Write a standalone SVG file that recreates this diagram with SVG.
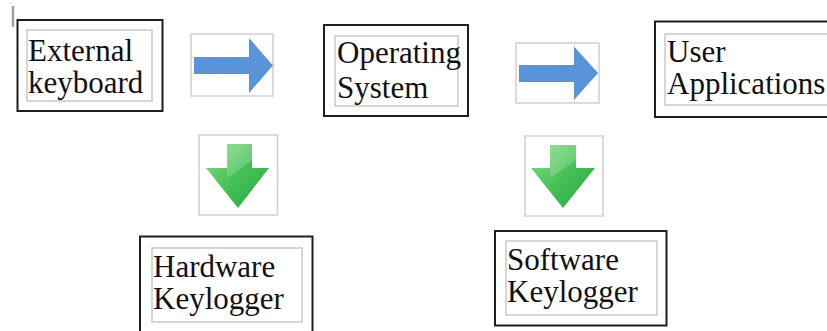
<svg xmlns="http://www.w3.org/2000/svg" width="827" height="331" viewBox="0 0 827 331">
<style>
.outer{fill:#fff;stroke:#1e1e1e;stroke-width:2}
.inner{fill:none;stroke:#c9c9c9;stroke-width:1.5}
.lbl{font-family:"Liberation Serif","Times New Roman",serif;font-size:31px;fill:#111}
.iconbox{fill:#fff;stroke:#cfcfcf;stroke-width:1.5}
.blue{fill:#5b93d8}
.green{fill:url(#g)}
</style>
<defs>
<linearGradient id="g" x1="0" y1="0" x2="1" y2="1">
<stop offset="0" stop-color="#8fdc8c"/>
<stop offset="0.45" stop-color="#4cc45a"/>
<stop offset="1" stop-color="#22a63f"/>
</linearGradient>
</defs>
<rect width="827" height="331" fill="#fff"/>
<line x1="13" y1="6" x2="13" y2="27" stroke="#a0a0a0" stroke-width="2.5"/>

<g id="external-keyboard">
<rect class="outer" x="17.5" y="20" width="145" height="91"/>
<rect class="inner" x="27" y="30" width="125" height="71"/>
<text class="lbl" x="28" y="61">External<tspan x="28" dy="32">keyboard</tspan></text>
</g>

<g id="operating-system">
<rect class="outer" x="324" y="25" width="144" height="91"/>
<rect class="inner" x="335" y="36" width="123" height="70"/>
<text class="lbl" x="337" y="63">Operating<tspan x="337" dy="35">System</tspan></text>
</g>

<g id="user-applications">
<rect class="outer" x="655" y="21.5" width="180" height="95.5"/>
<rect class="inner" x="665" y="34" width="170" height="71"/>
<text class="lbl" x="667" y="61.5">User<tspan x="667" dy="32.5">Applications</tspan></text>
</g>

<g id="hardware-keylogger">
<rect class="outer" x="140" y="236.5" width="172.5" height="105"/>
<rect class="inner" x="152" y="248" width="150" height="74"/>
<text class="lbl" x="153" y="276.5">Hardware<tspan x="153" dy="32.5">Keylogger</tspan></text>
</g>

<g id="software-keylogger">
<rect class="outer" x="495" y="231" width="171.5" height="94.5"/>
<rect class="inner" x="506" y="241" width="151" height="74"/>
<text class="lbl" x="507" y="270">Software<tspan x="507" dy="32">Keylogger</tspan></text>
</g>

<g id="connectors">
<g id="arrow-ek-os">
<rect class="iconbox" x="191" y="34" width="82" height="62"/>
<polygon class="blue" points="194,57 249,57 249,38 273,65.5 249,93 249,74 194,74"/>
</g>
<g id="arrow-os-ua">
<rect class="iconbox" x="516" y="43" width="83" height="60"/>
<polygon class="blue" points="519,65 574,65 574,46.5 598,73 574,100 574,82 519,82"/>
</g>
<g id="arrow-ek-hk">
<rect class="iconbox" x="199" y="135" width="78.5" height="80"/>
<polygon class="green" points="227,144 252,144 252,168 269,168 238,208 206,168 227,168"/>
<polygon points="227,144 252,144 252,160 227,178" fill="#fff" opacity="0.18"/>
</g>
<g id="arrow-os-sk">
<rect class="iconbox" x="525" y="136" width="78" height="80"/>
<polygon class="green" points="550,145 576,145 576,168 595,168 563,208 531,168 550,168"/>
<polygon points="550,145 576,145 576,160 550,178" fill="#fff" opacity="0.18"/>
</g>
</g>
</svg>
